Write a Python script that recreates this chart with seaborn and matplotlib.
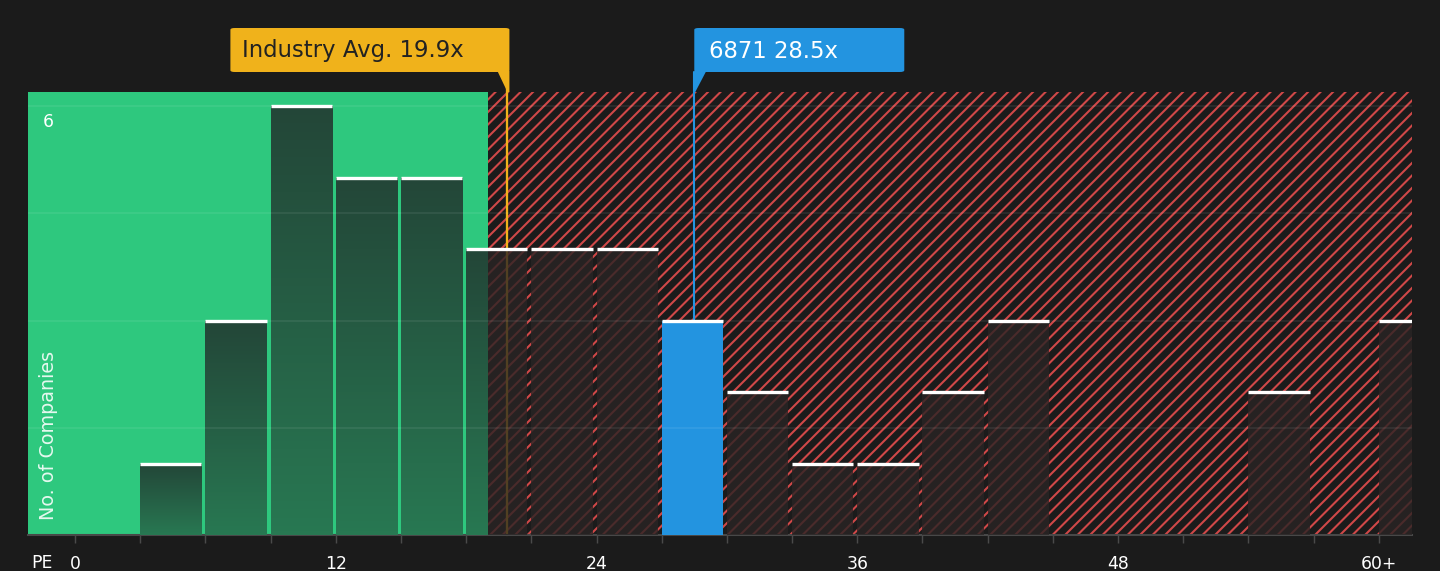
import numpy as np
import matplotlib
matplotlib.use("Agg")
import matplotlib.pyplot as plt
import seaborn as sns
from matplotlib.patches import FancyBboxPatch, Polygon

# PE histogram data (bins of width 3, last bin is "60+")
bin_start = list(range(0, 63, 3))
company_counts = [0, 1, 3, 6, 5, 5, 4, 4, 4, 3, 2, 1, 1, 2, 3, 0, 0, 0, 2, 0, 3]
tick_values = [0, 12, 24, 36, 48, 60]
tick_labels = ["0", "12", "24", "36", "48", "60+"]
industry_avg = 19.9
company_pe = 28.5
company_name = "6871"
fair_upper = 19.0

BG = "#1b1b1b"
GREEN = "#2ec87e"
RED = "#d04848"
ORANGE = "#f0b21b"
BLUE = "#2394e0"

sns.set_theme(style="dark", rc={"figure.facecolor": BG, "axes.facecolor": BG})
plt.rcParams["font.family"] = ["DejaVu Sans"]
plt.rcParams["hatch.linewidth"] = 1.0

W, H = 1440, 571
fig = plt.figure(figsize=(W / 150, H / 150), dpi=150)
ax = fig.add_axes([28 / W, 1 - 535 / H, (1412 - 28) / W, (535 - 92) / H])
xmin, xmax = -2.163, 61.53
ymax = 6.196

# background zones
ax.axvspan(xmin, fair_upper, color=GREEN, lw=0, zorder=0)
ax.axvspan(fair_upper, xmax, facecolor=BG, edgecolor=RED, hatch="////", lw=0, zorder=0)

n_before = len(ax.patches)
bin_edges = list(range(0, 66, 3))
shrink = 0.94
sns.histplot(x=bin_start, weights=company_counts, bins=bin_edges,
             shrink=shrink, color="#292424", alpha=0.8, edgecolor="none",
             linewidth=0, ax=ax, zorder=3)
bars = ax.patches[n_before:]

# gradient fill for bars in the green zone
top_c = np.array([0x23, 0x46, 0x38]) / 255
bot_c = np.array([0x28, 0x78, 0x52]) / 255
grad = np.linspace(top_c, bot_c, 100).reshape(100, 1, 3)

for p in bars:
    # bars sit flush on the left edge of their bin
    p.set_x(p.get_x() - p.get_width() * (1 - shrink) / (2 * shrink))
    h = p.get_height()
    if h <= 0:
        continue
    x0, w = p.get_x(), p.get_width()
    if x0 <= company_pe <= x0 + w:
        p.set_facecolor(BLUE)
        p.set_alpha(1)
    elif x0 < fair_upper:
        im = ax.imshow(grad, extent=[x0, min(x0 + w, fair_upper), 0, h],
                       aspect="auto", zorder=3.5, origin="upper")
        im.set_clip_path(p)
    ax.hlines(h, x0, x0 + w, color="white", lw=1.6, zorder=6)

# grid lines
for gy in [1.5, 3, 4.5, 6]:
    ax.axhline(gy, color="white", alpha=0.08, lw=0.8, zorder=5)

# reference lines
ax.axvline(industry_avg, ymin=0, ymax=1.045, color=ORANGE, lw=1.1, zorder=2.5, clip_on=False)
ax.axvline(company_pe, ymin=0, ymax=1.045, color=BLUE, lw=1.0, zorder=2.5, clip_on=False)

ax.set_xlim(xmin, xmax)
ax.set_ylim(0, ymax)
ax.set_xticks(bin_start)
ax.set_xticklabels([tick_labels[tick_values.index(v)] if v in tick_values else "" for v in bin_start])
ax.set_yticks([])
ax.tick_params(axis="x", colors="#4a4a4a", labelcolor="white", length=3.8, width=0.7,
               direction="out", bottom=True, pad=6, labelsize=8.3)
ax.set_xlabel("")
ax.set_ylabel("")
for s in ["top", "left", "right"]:
    ax.spines[s].set_visible(False)
ax.spines["bottom"].set_color("#484848")
ax.spines["bottom"].set_linewidth(1.0)

# inside labels
ax.text(-1.24, 5.9, "6", color="white", fontsize=8.3, ha="center", va="top", zorder=7)
ax.text(-1.24, 0.21, "No. of Companies", color="white", alpha=0.88, fontsize=9.2,
        rotation=90, ha="center", va="bottom", zorder=7)
fig.text(42 / W, 1 - 563 / H, "PE", color="white", fontsize=8.3, ha="center", va="center")


def to_fig(px, py):
    return px / W, 1 - py / H


# callouts (positioned from the data x of the lines)
tip_o = ax.transData.transform((industry_avg, 0))[0] * W / fig.bbox.width
tip_b = ax.transData.transform((company_pe, 0))[0] * W / fig.bbox.width

def callout(left, right, tip, side, color, text, tcolor, pad):
    x0, y0 = to_fig(left, 72)
    x1, y1 = to_fig(right, 28)
    fig.patches.append(FancyBboxPatch((x0, y0), x1 - x0, y1 - y0,
                                      boxstyle="round,pad=0,rounding_size=0.003",
                                      transform=fig.transFigure, fc=color, ec="none"))
    if side == "right":
        pts = [to_fig(right - 12, 71), to_fig(tip, 92), to_fig(right, 92), to_fig(right, 71)]
    else:
        pts = [to_fig(left, 71), to_fig(left, 92), to_fig(tip + 1, 92), to_fig(left + 12, 71)]
    fig.patches.append(Polygon(pts, closed=True, transform=fig.transFigure, fc=color, ec="none"))
    tx, ty = to_fig(left + pad, 51)
    fig.text(tx, ty, text, color=tcolor, fontsize=10.9, ha="left", va="center")


callout(tip_o - 277, tip_o + 2, tip_o, "right", ORANGE, f"Industry Avg. {industry_avg}x", "#222222", 12)
callout(tip_b, tip_b + 210, tip_b, "left", BLUE, f"{company_name} {company_pe}x", "white", 15)

fig.savefig("out.png", dpi=150, facecolor=BG)
